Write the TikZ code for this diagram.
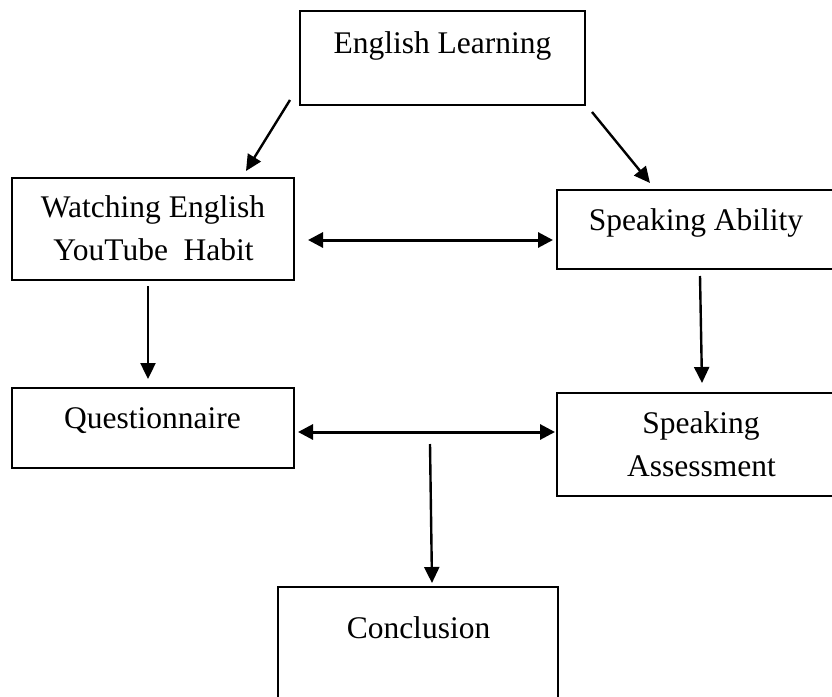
\documentclass[tikz,border=0pt]{standalone}
\usepackage{fontspec}
\setmainfont{Liberation Serif}
\usetikzlibrary{arrows.meta}
\begin{document}
\begin{tikzpicture}[x=1pt,y=-1pt,
  box/.style={draw, line width=2.6pt, inner sep=0pt},
  lbl/.style={font=\fontsize{31.5}{43}\selectfont, inner sep=0pt, anchor=base},
  arr/.style={line width=2.4pt, -{Triangle[length=16pt,width=15pt]}},
  darr/.style={line width=3pt, {Triangle[length=15pt,width=15pt]}-{Triangle[length=15pt,width=15pt]}}]
\fill[white] (0,0) rectangle (832,696);
\clip (0,0) rectangle (832,696);
% boxes
\node[box, minimum width=285pt, minimum height=94pt]  (el)  at (442.5,58)   {};
\node[box, minimum width=282pt, minimum height=102pt] (wy)  at (153,229)    {};
\node[box, minimum width=283pt, minimum height=79pt]  (sa)  at (698.5,229.5){};
\node[box, minimum width=282pt, minimum height=80pt]  (q)   at (153,428)    {};
\node[box, minimum width=283pt, minimum height=103pt] (sas) at (698.5,444.5){};
\node[box, minimum width=280pt, minimum height=113pt] (c)   at (418,643.5)  {};
% texts
\node[lbl] (elt)   at (442.5,53) {English Learning};
\node[lbl] (wyt1)  at (153,217)  {Watching English};
\node[lbl] (wyt2)  at (153.5,260){YouTube\ \ Habit};
\node[lbl] (sat)   at (696,230)  {Speaking Ability};
\node[lbl] (qt)    at (152.5,428){Questionnaire};
\node[lbl] (sast1) at (701,433)  {Speaking};
\node[lbl] (sast2) at (701.5,476){Assessment};
\node[lbl] (ct)    at (418.5,638){Conclusion};
% connector ends
\coordinate (a1s) at (290,100);  \coordinate (a1e) at (246,171);
\coordinate (a2s) at (592,112);  \coordinate (a2e) at (650,183);
\coordinate (a3s) at (308,240);  \coordinate (a3e) at (553,240);
\coordinate (a4s) at (148,286);  \coordinate (a4e) at (148,379);
\coordinate (a5s) at (700,276);  \coordinate (a5e) at (702,383);
\coordinate (a6s) at (298,432);  \coordinate (a6e) at (555,432);
\coordinate (a7s) at (430,444);  \coordinate (a7e) at (432,583);
% connectors
\draw[arr]  (a1s) -- (a1e);
\draw[arr]  (a2s) -- (a2e);
\draw[darr] (a3s) -- (a3e);
\draw[arr]  (a4s) -- (a4e);
\draw[arr]  (a5s) -- (a5e);
\draw[darr] (a6s) -- (a6e);
\draw[arr]  (a7s) -- (a7e);
\end{tikzpicture}
\end{document}
